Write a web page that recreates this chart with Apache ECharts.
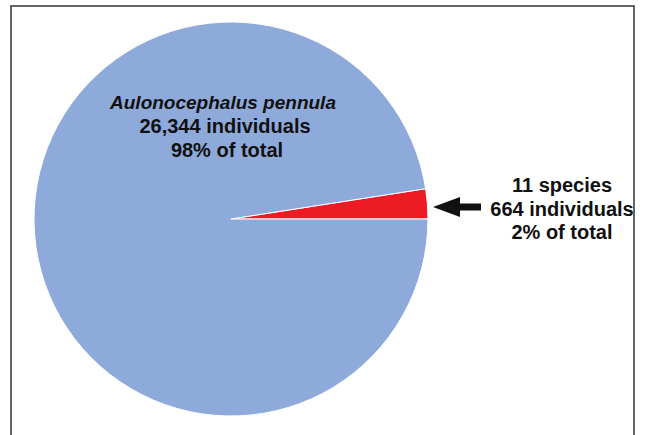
<!DOCTYPE html>
<html>
<head>
<meta charset="utf-8">
<script src="https://cdn.jsdelivr.net/npm/echarts@6/dist/echarts.min.js"></script>
<style>
  html, body { margin: 0; padding: 0; background: #fff; }
  #chart { width: 646px; height: 435px; }
</style>
</head>
<body>
<div id="chart"></div>
<script>
// data
var groupNames = ['Aulonocephalus pennula', '11 species'];
var individuals = [26344, 664];
var percentLabels = ['98%', '2%'];
var sliceColors = ['#8eaadb', '#ed1c24'];

var chart = echarts.init(document.getElementById('chart'), null, { renderer: 'svg' });

function fmt(n) {
  return n.toString().replace(/\B(?=(\d{3})+(?!\d))/g, ',');
}

var txtStyle = {
  fill: '#111',
  font: 'bold 20px "Liberation Sans", Arial, sans-serif',
  textAlign: 'center',
  textVerticalAlign: 'middle'
};

function label(x, y, text, font) {
  var st = Object.assign({}, txtStyle, { text: text });
  if (font) st.font = font;
  return { type: 'text', x: x, y: y, z: 100, style: st };
}

var option = {
  animation: false,
  backgroundColor: '#fff',
  series: [{
    type: 'pie',
    center: [231, 219],
    radius: 197,
    startAngle: 0,
    clockwise: false,
    label: { show: false },
    labelLine: { show: false },
    emphasis: { disabled: true },
    itemStyle: { borderWidth: 1, borderColor: '#fff' },
    // small group first so it opens counter-clockwise from 3 o'clock
    data: [
      { name: groupNames[1], value: individuals[1], itemStyle: { color: sliceColors[1] } },
      { name: groupNames[0], value: individuals[0], itemStyle: { color: sliceColors[0] } }
    ]
  }],
  graphic: [
    // frame
    { type: 'rect', z: 100, shape: { x: 11, y: 6, width: 623, height: 440 },
      style: { fill: 'none', stroke: '#333', lineWidth: 1.5 }, silent: true },
    // left label (big group)
    label(223, 102, groupNames[0], 'italic bold 19px "Liberation Sans", Arial, sans-serif'),
    label(225, 126, fmt(individuals[0]) + ' individuals'),
    label(227, 150, percentLabels[0] + ' of total'),
    // right label (small groups)
    label(562, 185, groupNames[1]),
    label(562, 209, fmt(individuals[1]) + ' individuals'),
    label(562, 232, percentLabels[1] + ' of total'),
    // arrow
    { type: 'rect', z: 100, shape: { x: 456, y: 203.5, width: 25, height: 7 }, style: { fill: '#111' } },
    { type: 'polygon', z: 100, shape: { points: [[433, 207], [460, 197], [460, 217]] }, style: { fill: '#111' } }
  ]
};

chart.setOption(option);
</script>
</body>
</html>
